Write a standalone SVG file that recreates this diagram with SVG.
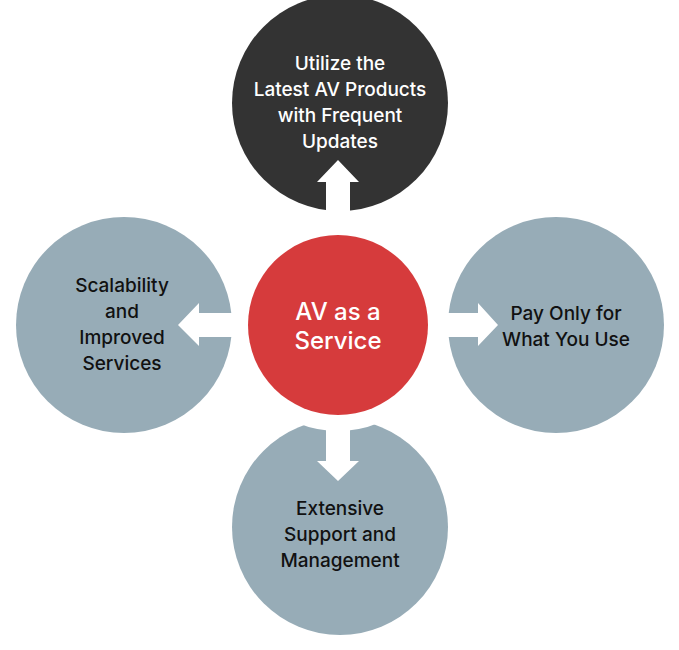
<svg xmlns="http://www.w3.org/2000/svg" width="679" height="650" viewBox="0 0 679 650">
<style>
.g{fill:#97acb7}.t{font-family:Inter,"Liberation Sans",sans-serif;font-size:19px;font-weight:500;text-anchor:middle;fill:#111}
.w{fill:#fff}
</style>
<rect width="679" height="650" fill="#fff"/>
<g id="top"><circle cx="340" cy="103" r="108" fill="#333333"/></g>
<g id="left"><circle class="g" cx="124" cy="325" r="108"/></g>
<g id="right"><circle class="g" cx="556" cy="325" r="108"/></g>
<g id="bottom"><circle class="g" cx="340" cy="527" r="108"/></g>
<circle cx="338" cy="325" r="106" fill="#fff"/>
<g id="center"><circle cx="338" cy="325" r="90" fill="#d63b3c"/>
<text class="t" style="font-size:24px;fill:#fff" x="338" y="320">AV as a</text>
<text class="t" style="font-size:24px;fill:#fff" x="338" y="349">Service</text></g>
<g id="connectors" class="w">
<polygon points="326,232 326,182 317,182 338,160 359,182 350,182 350,232"/>
<polygon points="240,313 199,313 199,303 178,325 199,346 199,337 240,337"/>
<polygon points="436,313 478,313 478,303 498,325 478,346 478,337 436,337"/>
<polygon points="326,418 326,461 317,461 338,481 359,461 350,461 350,418"/>
</g>
<g class="t">
<text x="340" y="70" style="fill:#fff">Utilize the</text>
<text x="340" y="96" style="fill:#fff">Latest AV Products</text>
<text x="340" y="122" style="fill:#fff">with Frequent</text>
<text x="340" y="148" style="fill:#fff">Updates</text>
<text x="122" y="292">Scalability</text>
<text x="122" y="318">and</text>
<text x="122" y="344">Improved</text>
<text x="122" y="370">Services</text>
<text x="566" y="320">Pay Only for</text>
<text x="566" y="346">What You Use</text>
<text x="340" y="515">Extensive</text>
<text x="340" y="541">Support and</text>
<text x="340" y="567">Management</text>
</g>
</svg>
